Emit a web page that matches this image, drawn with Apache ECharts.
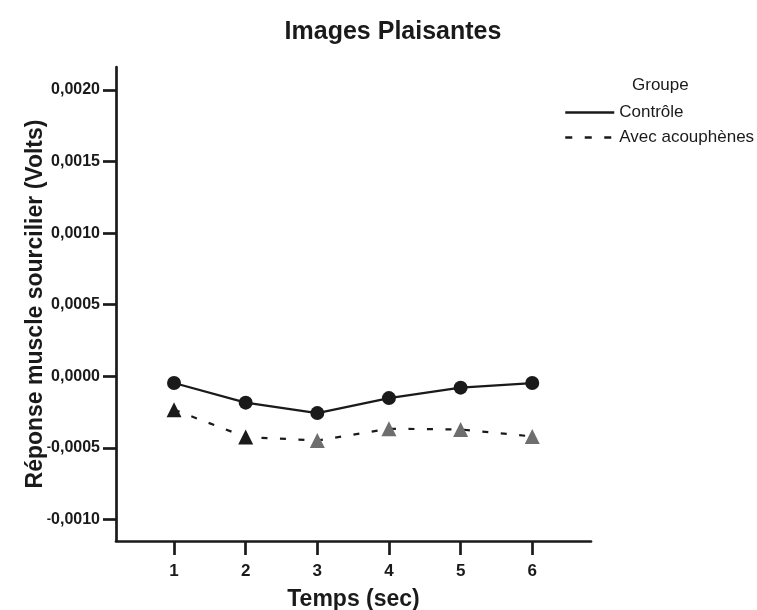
<!DOCTYPE html>
<html><head><meta charset="utf-8">
<script src="https://cdn.jsdelivr.net/npm/echarts@6/dist/echarts.min.js"></script>
<style>html,body{margin:0;padding:0;background:#fff}#c{width:757px;height:610px}</style>
</head><body><div id="c"></div>
<script>
const times = [1, 2, 3, 4, 5, 6];
const controle = [-0.000047, -0.000184, -0.000257, -0.000152, -0.000079, -0.000047];
const acouphenes = [-0.000233, -0.000424, -0.000448, -0.000366, -0.000371, -0.000420];
const yTicks = [-0.0010, -0.0005, 0.0000, 0.0005, 0.0010, 0.0015, 0.0020];
const xTicks = [1, 2, 3, 4, 5, 6];
const seriesNames = ['Contrôle', 'Avec acouphènes'];

const FONT = 'Liberation Sans, Arial, Helvetica, sans-serif';
const INK = '#1a1a1a';
const fmt = v => {
  const s = Math.abs(v).toFixed(4).replace('.', ',');
  return v < -1e-12 ? '{m|-}' + s : s;
};

const chart = echarts.init(document.getElementById('c'));
chart.setOption({
  animation: false,
  backgroundColor: '#fff',
  title: {
    text: 'Images Plaisantes', left: 388, top: 15, textAlign: 'center',
    textStyle: { fontFamily: FONT, fontWeight: 'bold', fontSize: 25, color: INK }
  },
  legend: {
    orient: 'vertical', left: 559, top: 99, itemGap: 8,
    itemWidth: 49, itemHeight: 14,
    itemStyle: { opacity: 0 },
    textStyle: { fontFamily: FONT, fontSize: 17, color: INK },
    data: [
      { name: seriesNames[0], lineStyle: { width: 2.5, type: 'solid' } },
      { name: seriesNames[1], lineStyle: { width: 2.5, type: [7, 12.5] } }
    ]
  },
  graphic: [{
    type: 'text', left: 632, top: 77,
    style: { text: 'Groupe', font: '17px ' + FONT, fill: INK }
  }],
  grid: { left: 116, right: 166, top: 67, bottom: 69, containLabel: false, outerBoundsMode: 'none' },
  xAxis: {
    type: 'value', min: 0.19, max: 6.82,
    name: 'Temps (sec)', nameLocation: 'middle', nameGap: 47, nameMoveOverlap: false,
    nameTextStyle: { fontFamily: FONT, fontWeight: 'bold', fontSize: 23, color: INK },
    axisLine: { onZero: false, lineStyle: { color: INK, width: 2.7 } },
    axisTick: { show: true, length: 14, lineStyle: { width: 2.7, color: INK }, customValues: xTicks },
    axisLabel: { margin: 22, fontFamily: FONT, fontWeight: 'bold', fontSize: 17, color: INK, customValues: xTicks, formatter: v => String(v) },
    splitLine: { show: false }
  },
  yAxis: {
    type: 'value', min: -0.00115, max: 0.00216,
    name: 'Réponse muscle sourcilier (Volts)', nameLocation: 'middle', nameGap: 69, nameMoveOverlap: false,
    nameTextStyle: { fontFamily: FONT, fontWeight: 'bold', fontSize: 23, color: INK },
    axisLine: { show: true, onZero: false, lineStyle: { color: INK, width: 2.7 } },
    axisTick: { show: true, length: 13, lineStyle: { width: 2.7, color: INK }, customValues: yTicks },
    axisLabel: {
      margin: 16, fontFamily: FONT, fontWeight: 'bold', fontSize: 16, color: INK, customValues: yTicks, formatter: fmt,
      rich: { m: { fontFamily: FONT, fontWeight: 'bold', fontSize: 13, color: INK } }
    },
    splitLine: { show: false }
  },
  series: [
    {
      name: seriesNames[0], type: 'line',
      data: times.map((t, i) => [t, controle[i]]),
      symbol: 'circle', symbolSize: 14,
      itemStyle: { color: INK },
      lineStyle: { color: INK, width: 2.2 }
    },
    {
      name: seriesNames[1], type: 'line',
      data: times.map((t, i) => ({ value: [t, acouphenes[i]], itemStyle: { color: i < 2 ? INK : '#6e6e6e' } })),
      symbol: 'triangle', symbolSize: [15, 15],
      itemStyle: { color: INK },
      lineStyle: { color: INK, width: 2.2, type: [6, 12.5] }
    }
  ]
});
</script>
</body></html>
